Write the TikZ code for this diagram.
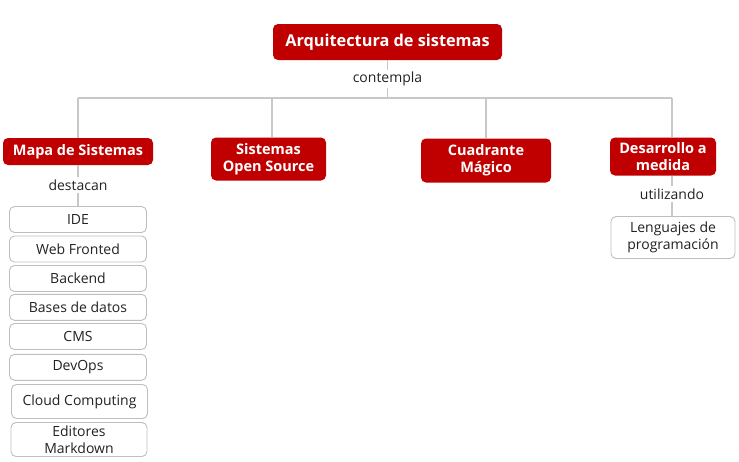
\documentclass[tikz,border=0pt]{standalone}
\usepackage{fontspec}
\setmainfont{Open Sans}
\definecolor{redbox}{RGB}{192,0,0}
\definecolor{linegray}{RGB}{200,200,200}
\definecolor{boxgray}{RGB}{190,190,190}
\definecolor{txt}{RGB}{34,34,34}
\tikzset{
  mainbox/.style={fill=redbox, draw=none, rounded corners=5pt, text=white, font=\fontsize{14.5}{17}\selectfont\bfseries, align=center, inner sep=0pt},
  subbox/.style={fill=white, draw=boxgray, line width=0.9pt, rounded corners=5pt, text=txt, font=\fontsize{14}{17}\selectfont, align=center, inner sep=0pt},
  lbl/.style={text=txt, font=\fontsize{14}{17}\selectfont, inner sep=2pt},
  conn/.style={draw=linegray, line width=1.2pt}
}
\begin{document}
\begin{tikzpicture}[x=1pt,y=-1pt]
\useasboundingbox (0,0) rectangle (739,461);
% root
\node[mainbox, minimum width=229pt, minimum height=36pt, font=\fontsize{16.3}{19}\selectfont\bfseries] (root) at (387.5,42) {Arquitectura de sistemas};
\node[lbl] (cont) at (387.5,79) {contempla};
\coordinate (hc) at (387.5,98);
\coordinate (h1) at (78,98);
\coordinate (h2) at (272,98);
\coordinate (h3) at (486,98);
\coordinate (h4) at (672,98);
% level 1
\node[mainbox, minimum width=150pt, minimum height=27pt] (mapa) at (78,151.5) {Mapa de Sistemas};
\node[mainbox, minimum width=115pt, minimum height=43pt] (os) at (268.5,159) {Sistemas\\Open Source};
\node[mainbox, minimum width=130pt, minimum height=44pt] (cm) at (486,160.5) {Cuadrante\\Mágico};
\node[mainbox, minimum width=106pt, minimum height=38pt] (dm) at (663,156.5) {Desarrollo a\\medida};
% connectors level 0-1
\draw[conn] (root.south) -- (cont.north);
\draw[conn] (cont.south) -- (hc);
\draw[conn] (h1) -- (h4);
\draw[conn] (h1) -- (mapa.north);
\draw[conn] (h2) -- (h2 |- os.north);
\draw[conn] (h3) -- (h3 |- cm.north);
\draw[conn] (h4) -- (h4 |- dm.north);
% mapa children
\node[lbl] (dest) at (78,185) {destacan};
\draw[conn] (mapa.south) -- (dest.north);
\node[subbox, minimum width=137pt, minimum height=26pt] (ide) at (78,219.5) {IDE};
\node[subbox, minimum width=137pt, minimum height=26pt] (web) at (78,249) {Web Fronted};
\node[subbox, minimum width=137pt, minimum height=26pt] (back) at (78,278.5) {Backend};
\node[subbox, minimum width=137pt, minimum height=26pt] (bd) at (78,307.3) {Bases de datos};
\node[subbox, minimum width=137pt, minimum height=26pt] (cms) at (78,336.5) {CMS};
\node[subbox, minimum width=137pt, minimum height=26pt] (dev) at (78,367.3) {DevOps};
\node[subbox, minimum width=136pt, minimum height=34pt] (cloud) at (79.5,401.5) {Cloud Computing};
\node[subbox, minimum width=136pt, minimum height=34pt] (ed) at (79,439.5) {Editores\\Markdown};
\draw[conn] (dest.south) -- (ide.north);
% desarrollo children
\node[lbl] (util) at (672,194) {utilizando};
\draw[conn] (dm.south -| util) -- (util.north);
\node[subbox, minimum width=124pt, minimum height=42pt] (leng) at (673,237.5) {Lenguajes de\\programación};
\draw[conn] (util.south) -- (util.south |- leng.north);
\end{tikzpicture}
\end{document}
